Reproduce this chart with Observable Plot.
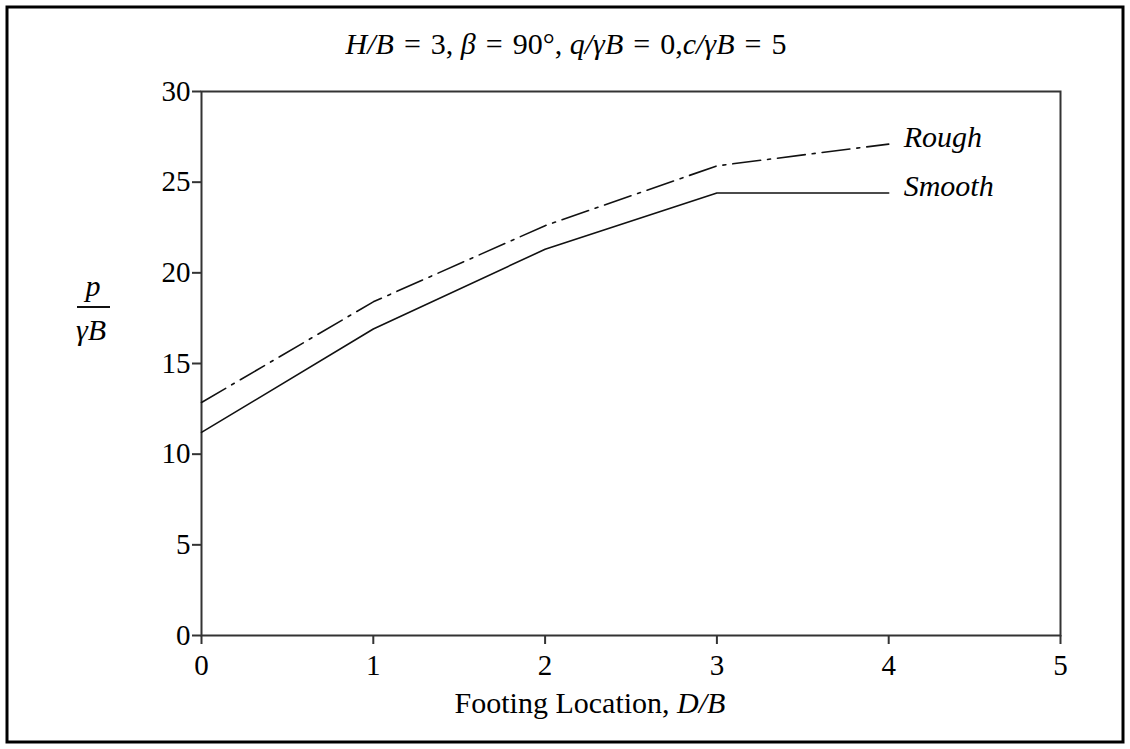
<!DOCTYPE html>
<html>
<head>
<meta charset="utf-8">
<script src="https://cdn.jsdelivr.net/npm/d3@7"></script>
<script src="https://cdn.jsdelivr.net/npm/@observablehq/plot@0.6"></script>
<style>
  html, body { margin: 0; padding: 0; background: #fff; }
  #chart { position: relative; width: 1130px; height: 749px; }
</style>
</head>
<body>
<div id="chart"></div>
<script>
const footing = [0, 1, 2, 3, 4];
const smooth = [11.2, 16.9, 21.3, 24.4, 24.4];
const rough = [12.85, 18.4, 22.6, 25.9, 27.1];
const xTicks = [0, 1, 2, 3, 4, 5];
const yTicks = [0, 5, 10, 15, 20, 25, 30];
const seriesNames = ["Smooth", "Rough"];

const rows = [];
footing.forEach((d, i) => {
  rows.push({series: "Smooth", x: d, y: smooth[i]});
  rows.push({series: "Rough", x: d, y: rough[i]});
});
const ends = seriesNames.map(s => rows.filter(r => r.series === s).slice(-1)[0]);

const font = "'Liberation Serif', 'DejaVu Serif', serif";

const plot = Plot.plot({
  width: 1130,
  height: 749,
  marginLeft: 201,
  marginRight: 70,
  marginTop: 91,
  marginBottom: 114,
  style: {fontFamily: font, fontSize: "29px", color: "#000", background: "#fff"},
  x: {domain: [0, 5], ticks: xTicks, tickFormat: d3.format("d")},
  y: {domain: [0, 30], ticks: yTicks, tickFormat: d3.format("d")},
  marks: [
    Plot.frame({stroke: "#333", strokeWidth: 2}),
    Plot.axisX({ticks: xTicks, tickFormat: d3.format("d"), tickSize: 9, tickPadding: 10, strokeWidth: 2, stroke: "#333", label: null, fontSize: 29, fill: "#000"}),
    Plot.axisY({ticks: yTicks, tickFormat: d3.format("d"), tickSize: 9, tickPadding: 2, strokeWidth: 2, stroke: "#333", label: null, fontSize: 29, fill: "#000"}),
    Plot.line(rows.filter(r => r.series === "Smooth"), {x: "x", y: "y", stroke: "#111", strokeWidth: 1.6}),
    Plot.line(rows.filter(r => r.series === "Rough"), {x: "x", y: "y", stroke: "#111", strokeWidth: 1.6, strokeDasharray: "28,7,3,7"}),
    Plot.text(ends, {x: "x", y: "y", text: "series", textAnchor: "start", dx: 15, dy: -7, fontStyle: "italic", fontSize: 30, fill: "#000", letterSpacing: "1.5px"})
  ]
});

document.getElementById("chart").appendChild(plot);

const svg = d3.select(plot);
// outer border
svg.append("rect").attr("x", 7).attr("y", 7).attr("width", 1116).attr("height", 735)
  .attr("fill", "none").attr("stroke", "#000").attr("stroke-width", 3);

// title with italic variables
const title = svg.append("text").attr("x", 566).attr("y", 54).attr("text-anchor", "middle")
  .attr("font-family", font).attr("font-size", 30).attr("fill", "#000");
const sp = "\u2004";
const parts = [
  ["H/B", true], [sp + "=" + sp + "3, ", false], ["β", true], [sp + "=" + sp + "90°, ", false],
  ["q/γB", true], [sp + "=" + sp + "0,", false], ["c/γB", true], [sp + "=" + sp + "5", false]
];
parts.forEach(([t, it]) => title.append("tspan").attr("font-style", it ? "italic" : "normal")
  .attr("xml:space", "preserve").style("white-space", "pre").text(t));

// y label fraction
const yl = svg.append("g").attr("font-family", font).attr("font-size", 30).attr("fill", "#000").attr("font-style", "italic");
yl.append("text").attr("x", 93).attr("y", 296).attr("text-anchor", "middle").text("p");
yl.append("line").attr("x1", 77).attr("x2", 110).attr("y1", 307).attr("y2", 307).attr("stroke", "#111").attr("stroke-width", 2);
yl.append("text").attr("x", 91).attr("y", 340).attr("text-anchor", "middle").text("γB");

// x label
const xl = svg.append("text").attr("x", 590).attr("y", 713).attr("text-anchor", "middle")
  .attr("font-family", font).attr("font-size", 30).attr("fill", "#000");
xl.append("tspan").text("Footing Location, ");
xl.append("tspan").attr("font-style", "italic").text("D/B");
</script>
</body>
</html>
